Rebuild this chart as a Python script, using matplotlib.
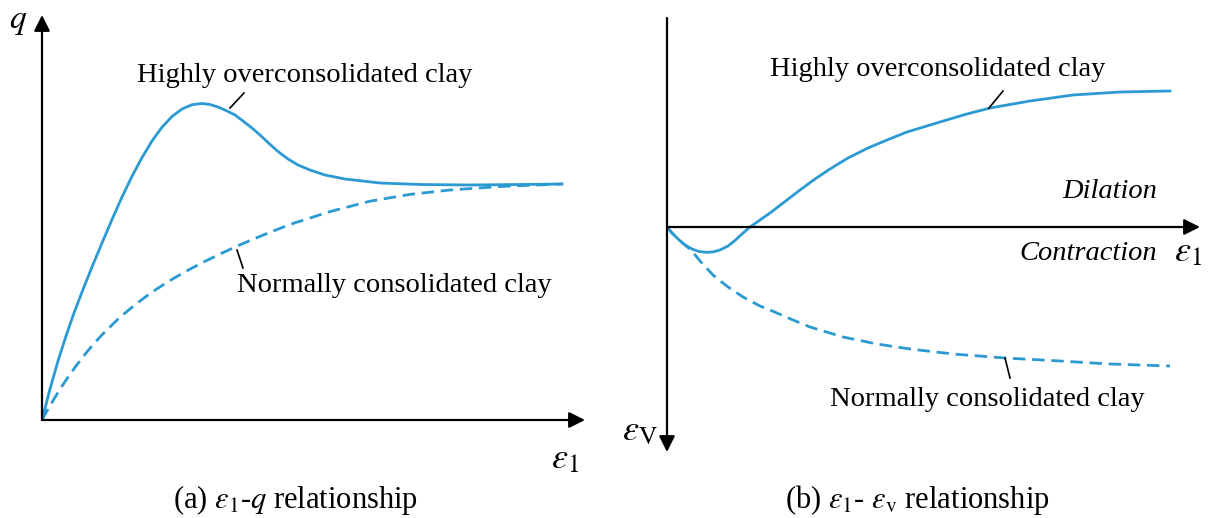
import numpy as np
import matplotlib
matplotlib.use('Agg')
import matplotlib.pyplot as plt

plt.rcParams['font.family'] = ['Liberation Serif', 'DejaVu Serif']
plt.rcParams['mathtext.fontset'] = 'stix'

# schematic, arbitrary units
# panel (a): eps1 vs q
a_eps1_oc = [0, 8, 16, 24, 32, 40, 50, 60, 70, 80, 90, 100, 110, 120, 130, 140, 150, 160,
             168, 176, 184, 193, 201, 210, 218, 226, 236, 246, 256, 268, 283, 303, 338, 378, 428, 478, 520]
a_q_oc = [0, 31, 59, 84, 107, 128, 153, 177, 200.5, 222.9, 243.7, 262.4, 279, 292.8, 303.5, 311, 315.3, 316.5,
          315.5, 313, 309.5, 305, 299, 292, 285, 277.5, 268.5, 261, 255, 250, 245, 241, 237, 235.5, 235, 235.5, 236]
a_eps1_nc = [0, 6, 13, 19, 26, 34, 43, 51, 60, 76, 93, 110, 126, 143, 160, 178, 196, 211, 226, 240,
             253, 288, 328, 368, 408, 458, 520]
a_q_nc = [0, 10.8, 22.7, 32.3, 42.8, 54, 65.7, 75.3, 85.2, 100.9, 115.3, 127.9, 138.3, 148.2, 157.2, 166,
          174.3, 180.7, 186.9, 192.4, 197.2, 208.4, 218.8, 225.6, 230, 233.5, 236]

# panel (b): eps1 vs eps_v (contraction positive, drawn downward)
b_eps1_oc = [0, 5, 11, 18, 25, 32, 39, 46, 53, 61, 68, 75, 83, 93, 103, 120, 133, 148, 163, 181,
             201, 220, 240, 273, 298, 323, 363, 406, 453, 503]
b_epsv_oc = [0, 6, 12, 18, 22, 24.5, 25.3, 25, 23, 19, 13.5, 7, 0, -7, -14, -27, -37, -48, -58, -69,
             -79, -87, -95, -105, -112.5, -119, -126, -132, -135, -136]
b_eps1_nc = [0, 5, 11, 18, 25, 33, 46, 61, 76, 93, 110, 126, 143, 176, 210, 243, 273, 290, 338, 393, 443, 503]
b_epsv_nc = [0, 6, 12, 18, 24, 34, 48, 60, 70, 79, 86, 93, 100, 110, 117, 122, 125.5, 127.3, 131, 134, 137, 139]

blue = '#2b9ad3'
fs = 20.5
dash = (0, (4.5, 2.4))

fig = plt.figure(figsize=(12.08, 5.18), dpi=100)
W, H = 1208.0, 518.0

arw = dict(arrowstyle='-|>', lw=1.6, color='black', mutation_scale=24, shrinkA=0, shrinkB=0)

# ---- (a) ----
ax1 = fig.add_axes([42 / W, (H - 420) / H, 543 / W, 405 / H])
ax1.set_xlim(0, 543)
ax1.set_ylim(0, 405)
ax1.axis('off')

ax1.plot(a_eps1_oc, a_q_oc, color=blue, lw=2)
ax1.plot(a_eps1_nc, a_q_nc, color=blue, lw=2, linestyle=dash)

ax1.annotate('', xy=(543, 0), xytext=(0, 0), arrowprops=arw, annotation_clip=False)
ax1.annotate('', xy=(0, 405), xytext=(0, 0), arrowprops=arw, annotation_clip=False)

ax1.text(-24, 398, r'$q$', fontsize=24, ha='center', va='center')
ax1.text(523, -40, r'$\varepsilon_{\mathrm{1}}$', fontsize=26, ha='center', va='center')

ax1.text(262.5, 345, 'Highly overconsolidated clay', fontsize=fs, ha='center', va='center')
ax1.plot([188, 202], [312, 327], color='black', lw=1.2)
ax1.text(352, 135, 'Normally consolidated clay', fontsize=fs, ha='center', va='center')
ax1.plot([195, 201], [170, 152], color='black', lw=1.2)

# ---- (b) ----
ax2 = fig.add_axes([667 / W, (H - 452) / H, 533 / W, 434 / H])
ax2.set_xlim(0, 533)
ax2.set_ylim(225, -209)
ax2.axis('off')

ax2.plot(b_eps1_oc, b_epsv_oc, color=blue, lw=2)
ax2.plot(b_eps1_nc, b_epsv_nc, color=blue, lw=2, linestyle=dash)

ax2.annotate('', xy=(533, 0), xytext=(0, 0), arrowprops=arw, annotation_clip=False)
ax2.annotate('', xy=(0, 225), xytext=(0, -209), arrowprops=arw, annotation_clip=False)

ax2.text(-27, 205, r'$\varepsilon_{\mathrm{V}}$', fontsize=26, ha='center', va='center')
ax2.text(521, 26, r'$\varepsilon_{\mathrm{1}}$', fontsize=26, ha='center', va='center')

ax2.text(270.5, -157, 'Highly overconsolidated clay', fontsize=fs, ha='center', va='center')
ax2.plot([322, 336], [-119, -136], color='black', lw=1.2)
ax2.text(490, -35, 'Dilation', fontsize=fs, style='italic', ha='right', va='center')
ax2.text(490, 26, 'Contraction', fontsize=fs, style='italic', ha='right', va='center')
ax2.text(320, 173, 'Normally consolidated clay', fontsize=fs, ha='center', va='center')
ax2.plot([338, 343], [131, 151], color='black', lw=1.2)

# captions
fig.text(295 / W, 1 - 500 / H, r'(a) $\varepsilon_{\mathrm{1}}$-$q$ relationship', fontsize=22, ha='center', va='center')
fig.text(917 / W, 1 - 500 / H, r'(b) $\varepsilon_{\mathrm{1}}$- $\varepsilon_{\mathrm{v}}$ relationship', fontsize=22, ha='center', va='center')

fig.savefig('out.png', dpi=100)
